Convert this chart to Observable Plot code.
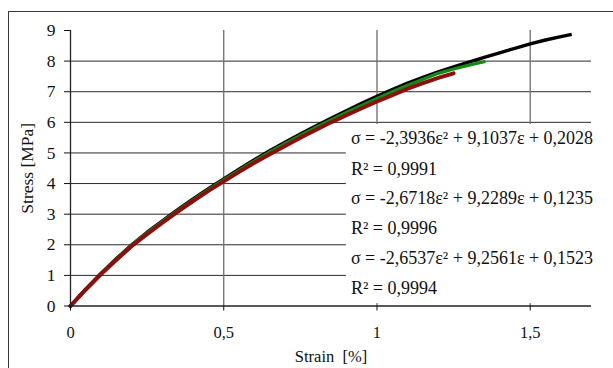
<!DOCTYPE html>
<html>
<head>
<meta charset="utf-8">
<script src="https://cdn.jsdelivr.net/npm/d3@7"></script>
<script src="https://cdn.jsdelivr.net/npm/@observablehq/plot@0.6"></script>
<style>
  html, body { margin: 0; padding: 0; background: #fff; overflow: hidden; }
  #wrap { position: relative; width: 613px; height: 368px; overflow: hidden; }
  #box { position: absolute; left: 8px; top: 11px; width: 700px; height: 500px; border: 1.5px solid #3a3a3a; box-sizing: border-box; pointer-events: none; }
  svg text { font-family: 'Liberation Serif', 'Times New Roman', serif; }
</style>
</head>
<body>
<div id="wrap"><div id="box"></div></div>
<script>
// Series: strain [%] and stress [MPa]
const strainBlack = [0, 0.05, 0.1, 0.15, 0.2, 0.25, 0.3, 0.35, 0.4, 0.45, 0.5, 0.55, 0.6, 0.65, 0.7, 0.75, 0.8, 0.85, 0.9, 0.95, 1.0, 1.05, 1.1, 1.15, 1.2, 1.25, 1.3, 1.35, 1.4, 1.45, 1.5, 1.55, 1.6, 1.63];
const stressBlack = [0, 0.55, 1.07, 1.55, 2.0, 2.41, 2.78, 3.15, 3.5, 3.83, 4.15, 4.47, 4.78, 5.07, 5.35, 5.62, 5.88, 6.13, 6.38, 6.62, 6.85, 7.07, 7.28, 7.47, 7.65, 7.81, 7.97, 8.12, 8.27, 8.42, 8.56, 8.69, 8.8, 8.86];

const strainGreen = [0, 0.05, 0.1, 0.15, 0.2, 0.25, 0.3, 0.35, 0.4, 0.45, 0.5, 0.55, 0.6, 0.65, 0.7, 0.75, 0.8, 0.85, 0.9, 0.95, 1.0, 1.05, 1.1, 1.15, 1.2, 1.25, 1.3, 1.35];
const stressGreen = [0, 0.55, 1.06, 1.54, 1.99, 2.39, 2.76, 3.12, 3.47, 3.8, 4.12, 4.43, 4.74, 5.03, 5.3, 5.57, 5.83, 6.08, 6.32, 6.55, 6.78, 7.0, 7.21, 7.41, 7.6, 7.74, 7.87, 7.98];

const strainRed = [0, 0.05, 0.1, 0.15, 0.2, 0.25, 0.3, 0.35, 0.4, 0.45, 0.5, 0.55, 0.6, 0.65, 0.7, 0.75, 0.8, 0.85, 0.9, 0.95, 1.0, 1.05, 1.1, 1.15, 1.2, 1.25];
const stressRed = [0, 0.54, 1.04, 1.51, 1.96, 2.35, 2.72, 3.08, 3.43, 3.76, 4.07, 4.38, 4.68, 4.96, 5.23, 5.5, 5.75, 6.0, 6.23, 6.46, 6.68, 6.89, 7.1, 7.28, 7.45, 7.6];

const xTicks = [0, 0.5, 1, 1.5];
const yTicks = [0, 1, 2, 3, 4, 5, 6, 7, 8, 9];
const yGrid = [1, 2, 3, 4, 5, 6, 7, 8];
const xGrid = [0.5, 1, 1.5];

const eqLabels = [
  "σ = -2,3936ε² + 9,1037ε + 0,2028",
  "R² = 0,9991",
  "σ = -2,6718ε² + 9,2289ε + 0,1235",
  "R² = 0,9996",
  "σ = -2,6537ε² + 9,2561ε + 0,1523",
  "R² = 0,9994"
];
const eqY = [5.48, 4.47, 3.52, 2.54, 1.56, 0.57];
const eqX = 0.915;
const eqBox = [{x1: 0.9, x2: 1.72, y1: 0.08, y2: 5.93}];

const toRows = (xs, ys) => xs.map((x, i) => ({x, y: ys[i]}));
const black = toRows(strainBlack, stressBlack);
const green = toRows(strainGreen, stressGreen);
const red = toRows(strainRed, stressRed);
const eqRows = eqLabels.map((t, i) => ({t, x: eqX, y: eqY[i]}));
const fmt = d => String(d).replace(".", ",");
const serif = "'Liberation Serif', 'Times New Roman', serif";

const chart = Plot.plot({
  width: 613,
  height: 368,
  marginLeft: 70,
  marginRight: 22,
  marginTop: 30,
  marginBottom: 62.5,
  style: {fontFamily: serif, fontSize: "17px", color: "#111", background: "transparent"},
  x: {domain: [0, 1.7]},
  y: {domain: [0, 9]},
  marks: [
    Plot.gridY(yGrid, {stroke: "#2a2a2a", strokeOpacity: 1, strokeWidth: 1}),
    Plot.gridX(xGrid, {stroke: "#6e6e6e", strokeOpacity: 1, strokeWidth: 1.3}),
    Plot.rect(eqBox, {x1: "x1", x2: "x2", y1: "y1", y2: "y2", fill: "white"}),
    Plot.line(black, {x: "x", y: "y", stroke: "#000", strokeWidth: 3.4, strokeLinecap: "square"}),
    Plot.line(green, {x: "x", y: "y", stroke: "#138a13", strokeWidth: 3.2}),
    Plot.line(red, {x: "x", y: "y", stroke: "#8e0d0d", strokeWidth: 4}),
    Plot.ruleY([0], {stroke: "#222", strokeWidth: 1.3}),
    Plot.ruleX([0], {stroke: "#222", strokeWidth: 1.3}),
    Plot.axisY({ticks: yTicks, tickSize: 6, tickPadding: 9, tickFormat: fmt, label: "Stress [MPa]", labelAnchor: "center", labelArrow: "none", labelOffset: 50, fontSize: 17.5, fontFamily: serif}),
    Plot.axisX({ticks: xTicks, tickSize: 5, tickPadding: 15, tickFormat: fmt, label: "Strain\u00a0\u00a0[%]", labelAnchor: "center", labelArrow: "none", labelOffset: 56, fontSize: 16.5, fontFamily: serif}),
    Plot.text(eqRows, {x: "x", y: "y", text: "t", textAnchor: "start", fontSize: 18, fontFamily: serif, fill: "#111"})
  ]
});
document.getElementById("wrap").prepend(chart);
</script>
</body>
</html>
